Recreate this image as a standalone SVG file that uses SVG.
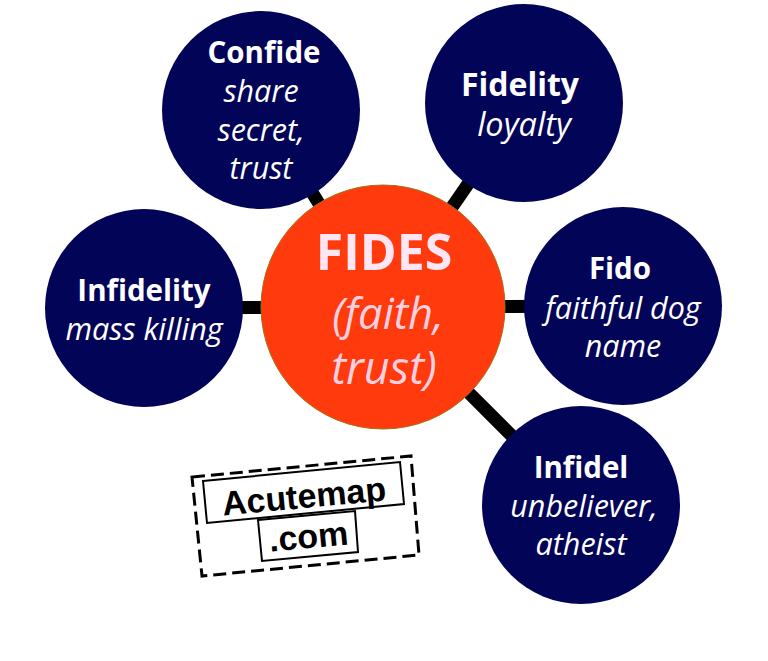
<svg xmlns="http://www.w3.org/2000/svg" width="768" height="661" viewBox="0 0 768 661">
<style>
text{font-variant-ligatures:none}
.n{fill:#020457}
.b{font-family:"Open Sans","Lato",sans-serif;font-weight:700;font-size:29.5px;fill:#fff;text-anchor:middle}
.i{font-family:"Open Sans","Lato",sans-serif;font-style:italic;font-size:30.5px;fill:#fff;text-anchor:middle}
.c{stroke:#000;stroke-width:13;fill:none}
.s{font-family:"Liberation Sans",Arial,sans-serif;font-weight:700;font-size:34px;fill:#000;text-anchor:middle}
</style>
<rect width="768" height="661" fill="#fff"/>
<g id="connectors">
<line class="c" x1="383" y1="307" x2="261" y2="110"/>
<line class="c" x1="383" y1="307" x2="524" y2="103"/>
<line class="c" x1="383" y1="307" x2="623" y2="306"/>
<line class="c" x1="383" y1="307" x2="581" y2="505"/>
<line class="c" x1="383" y1="307" x2="144" y2="308"/>
</g>
<g id="confide"><circle class="n" cx="261" cy="110" r="99"/>
<text class="b" x="264" y="63">Confide</text><text class="i" x="261" y="102">share</text><text class="i" x="261" y="141">secret,</text><text class="i" x="261" y="179">trust</text></g>
<g id="fidelity"><circle class="n" cx="524" cy="103" r="99"/>
<text class="b" x="520" y="96" style="font-size:32px">Fidelity</text><text class="i" x="524" y="136" style="font-size:32.5px">loyalty</text></g>
<g id="fido"><circle class="n" cx="623" cy="306" r="99"/>
<text class="b" x="620" y="279">Fido</text><text class="i" x="623" y="319">faithful dog</text><text class="i" x="623" y="357">name</text></g>
<g id="infidel"><circle class="n" cx="581" cy="505" r="99"/>
<text class="b" x="581" y="478">Infidel</text><text class="i" x="584" y="517">unbeliever,</text><text class="i" x="581" y="555">atheist</text></g>
<g id="infidelity"><circle class="n" cx="144" cy="308" r="99"/>
<text class="b" x="144" y="301">Infidelity</text><text class="i" x="144" y="340">mass killing</text></g>
<g id="fides"><circle cx="383" cy="307" r="122" fill="#ff3a0c" stroke="#a5701a" stroke-width="1"/>
<text x="384" y="270" font-family="'Open Sans',Lato,sans-serif" font-weight="700" font-size="50" fill="#ffe6f4" text-anchor="middle">FIDES</text>
<text x="388" y="329" font-family="'Open Sans',Lato,sans-serif" font-style="italic" font-size="43.5" fill="#ffd0e0" text-anchor="middle">(faith,</text>
<text x="384" y="384" font-family="'Open Sans',Lato,sans-serif" font-style="italic" font-size="45" fill="#ffd0e0" text-anchor="middle">trust)</text></g>
<g id="stamp" fill="none" stroke="#000">
<polygon points="192,477 411,456 419,555 202,576" stroke-width="3" stroke-dasharray="13 6"/>
<polygon points="203,481 400,462 404,504 207,523" fill="#fff" stroke-width="2"/>
<polygon points="258,520 355,511 358,552 262,561" fill="#fff" stroke-width="2"/>
<text class="s" transform="translate(305,508) rotate(-5.3)" stroke="none">Acutemap</text>
<text class="s" transform="translate(309.5,548) rotate(-5.3)" stroke="none">.com</text>
</g>
</svg>
